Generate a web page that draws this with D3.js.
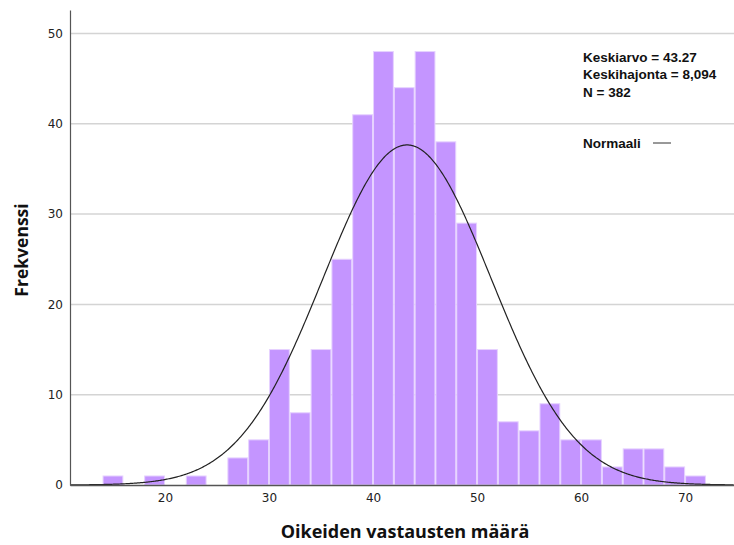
<!DOCTYPE html>
<html>
<head>
<meta charset="utf-8">
<script src="https://cdn.jsdelivr.net/npm/d3@7"></script>
<style>
  html, body { margin: 0; padding: 0; background: #fff; }
  svg { display: block; }
</style>
</head>
<body>
<svg id="chart" width="734" height="545"></svg>
<script>
// Histogram bins (lower edge, width 2) and their frequencies
const binStarts = [14, 16, 18, 20, 22, 24, 26, 28, 30, 32, 34, 36, 38, 40, 42, 44, 46, 48, 50, 52, 54, 56, 58, 60, 62, 64, 66, 68, 70];
const frequencies = [1, 0, 1, 0, 1, 0, 3, 5, 15, 8, 15, 25, 41, 48, 44, 48, 38, 29, 15, 7, 6, 9, 5, 5, 2, 4, 4, 2, 1];
const binWidth = 2;

const xTicks = [20, 30, 40, 50, 60, 70];
const yTicks = [0, 10, 20, 30, 40, 50];

const stats = { mean: 43.27, sd: 8.094, n: 382 };
const statLines = ["Keskiarvo = 43.27", "Keskihajonta = 8,094", "N = 382"];
const legendLabel = "Normaali";

const svg = d3.select("#chart");
const plot = { left: 70, right: 734, top: 10, bottom: 485 };

const x = d3.scaleLinear().domain([10.87, 74.7]).range([plot.left, plot.right]);
const y = d3.scaleLinear().domain([0, 52.6]).range([plot.bottom, plot.top]);

// Gridlines
svg.append("g")
  .selectAll("line")
  .data(yTicks.filter(d => d > 0))
  .join("line")
  .attr("x1", plot.left).attr("x2", plot.right)
  .attr("y1", d => y(d)).attr("y2", d => y(d))
  .attr("stroke", "#d4d4d4")
  .attr("stroke-width", 1.5);

// Bars
svg.append("g")
  .selectAll("rect")
  .data(binStarts.map((b, i) => ({ b, f: frequencies[i] })).filter(d => d.f > 0))
  .join("rect")
  .attr("x", d => x(d.b) + 0.5)
  .attr("width", d => x(d.b + binWidth) - x(d.b) - 1)
  .attr("y", d => y(d.f))
  .attr("height", d => y(0) - y(d.f))
  .attr("fill", "#c495ff")
  .attr("stroke", "#e6d2ff")
  .attr("stroke-width", 1);

// Normal curve scaled to the histogram (count * bin width)
const [xmin, xmax] = x.domain();
const curvePts = d3.range(xmin, xmax + 0.01, 0.1).map(v => {
  const z = (v - stats.mean) / stats.sd;
  const dens = Math.exp(-0.5 * z * z) / (stats.sd * Math.sqrt(2 * Math.PI));
  return [v, stats.n * binWidth * dens];
});
svg.append("path")
  .datum(curvePts)
  .attr("fill", "none")
  .attr("stroke", "#222")
  .attr("stroke-width", 1.2)
  .attr("d", d3.line().x(d => x(d[0])).y(d => y(d[1])));

// Axes
const xAxis = svg.append("g")
  .attr("transform", `translate(0,${plot.bottom})`)
  .call(d3.axisBottom(x).tickValues(xTicks).tickSize(0).tickPadding(8).tickFormat(d3.format("d")));
xAxis.select(".domain").attr("stroke", "#555").attr("stroke-width", 1.5);
xAxis.selectAll("text").attr("font-family", "DejaVu Sans, sans-serif").attr("font-size", 12).attr("fill", "#222");

const yAxis = svg.append("g")
  .attr("transform", `translate(${plot.left},0)`)
  .call(d3.axisLeft(y).tickValues(yTicks).tickSize(0).tickPadding(7).tickFormat(d3.format("d")));
yAxis.select(".domain").attr("stroke", "#555").attr("stroke-width", 1.2);
yAxis.selectAll("text").attr("font-family", "DejaVu Sans, sans-serif").attr("font-size", 12).attr("fill", "#222");

// Axis titles
svg.append("text")
  .attr("x", 405).attr("y", 538)
  .attr("text-anchor", "middle")
  .attr("font-family", "Open Sans, sans-serif")
  .attr("font-weight", "bold")
  .attr("font-size", 18)
  .attr("fill", "#111")
  .text("Oikeiden vastausten määrä");

svg.append("text")
  .attr("transform", "translate(28,250) rotate(-90)")
  .attr("text-anchor", "middle")
  .attr("font-family", "Open Sans, sans-serif")
  .attr("font-weight", "bold")
  .attr("font-size", 17.5)
  .attr("fill", "#111")
  .text("Frekvenssi");

// Statistics box
const statsG = svg.append("g").attr("font-family", "Liberation Sans, Arial, sans-serif")
  .attr("font-weight", "bold").attr("font-size", 13.5).attr("fill", "#111");
statsG.selectAll("text")
  .data(statLines)
  .join("text")
  .attr("x", 583)
  .attr("y", (d, i) => 61.5 + i * 17.5)
  .text(d => d);

statsG.append("text")
  .attr("x", 583).attr("y", 147.5)
  .text(legendLabel);
svg.append("line")
  .attr("x1", 653).attr("x2", 671)
  .attr("y1", 143).attr("y2", 143)
  .attr("stroke", "#333").attr("stroke-width", 1);
</script>
</body>
</html>
